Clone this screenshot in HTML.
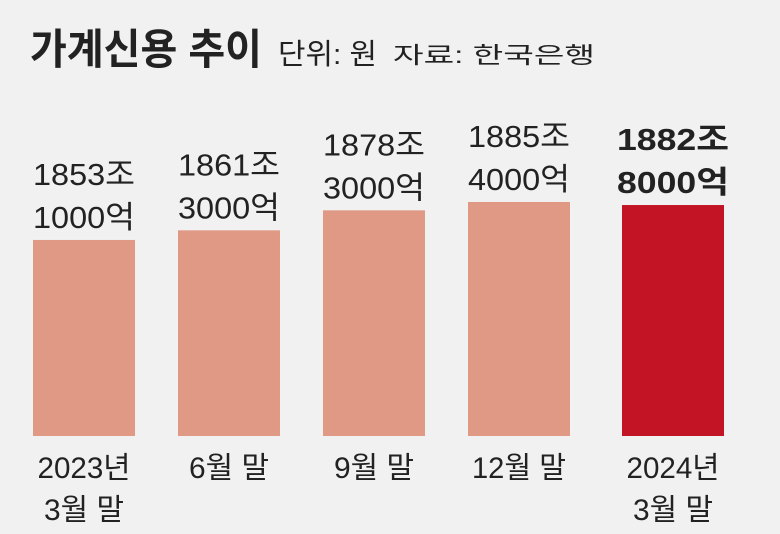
<!DOCTYPE html>
<html><head><meta charset="utf-8"><style>
html,body{margin:0;padding:0;background:#f1f1f1;}
svg{display:block;font-family:"Liberation Sans","Noto Sans CJK KR",sans-serif;}
</style></head><body>
<svg id="chart" width="780" height="534" viewBox="0 0 780 534">
<rect width="780" height="534" fill="#f1f1f1"/>
<text x="30" y="64" font-size="42" font-weight="bold" fill="#222" textLength="232" lengthAdjust="spacingAndGlyphs">가계신용 추이</text>
<text x="278" y="64" font-size="29" fill="#222" textLength="99" lengthAdjust="spacingAndGlyphs">단위: 원</text>
<text x="393" y="63" font-size="23" fill="#222" textLength="202" lengthAdjust="spacingAndGlyphs">자료: 한국은행</text>
<g id="bars"></g>
</svg>
<script>
const categories = [["2023년","3월 말"],["6월 말"],["9월 말"],["12월 말"],["2024년","3월 말"]];
const values = [1853.1, 1861.3, 1878.3, 1885.4, 1882.8];
const valueLabels = [["1853조","1000억"],["1861조","3000억"],["1878조","3000억"],["1885조","4000억"],["1882조","8000억"]];
const NS="http://www.w3.org/2000/svg";
const g=document.getElementById('bars');
const baseY=436, base=1686.4, k=1.176;
const y=v=>baseY-(v-base)*k;
const x=i=>33+i*145+(i===4?9:0);
const bw=102;
function t(txt,cx,yy,size,bold,len){
  const e=document.createElementNS(NS,'text');
  e.setAttribute('x',cx);e.setAttribute('y',yy);e.setAttribute('font-size',size);
  e.setAttribute('text-anchor','middle');e.setAttribute('fill','#222');
  if(bold)e.setAttribute('font-weight','bold');
  e.setAttribute('textLength',len);e.setAttribute('lengthAdjust','spacingAndGlyphs');
  e.textContent=txt;g.appendChild(e);return e;
}
values.forEach((v,i)=>{
  const last=i===values.length-1;
  const r=document.createElementNS(NS,'rect');
  r.setAttribute('x',x(i));r.setAttribute('y',y(v));r.setAttribute('width',bw);r.setAttribute('height',baseY-y(v));
  r.setAttribute('fill',last?'#c21425':'#e09985');
  
  
  g.appendChild(r);
  const cx=x(i)+bw/2, top=y(v);
  const l1=t(valueLabels[i][0],cx,top-55,31,last,last?112:102);
  
  
  const l2=t(valueLabels[i][1],cx,top-12,31,last,last?112:102);
  
  
  categories[i].forEach((c,j)=>{
    const len=c.indexOf('년')>=0?93:(c.length>4?94:80);
    const e=t(c,cx,478+j*42,30,false,len);
    
    
  });
});
</script>
</body></html>
